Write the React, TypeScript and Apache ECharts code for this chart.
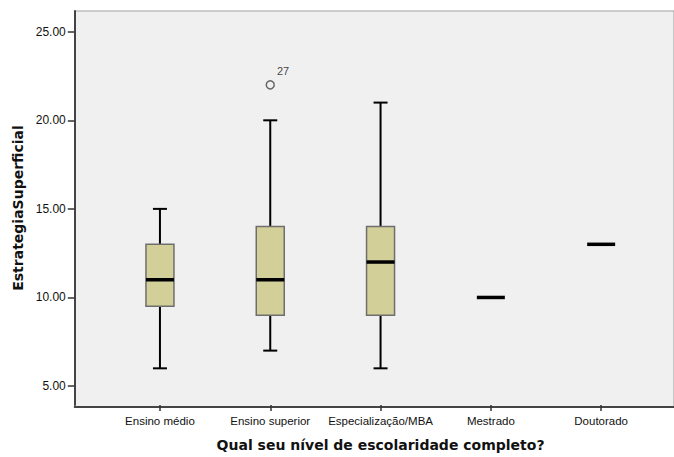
import React, { useEffect, useRef } from "react";
import * as echarts from "echarts";

const categories = ["Ensino médio", "Ensino superior", "Especialização/MBA", "Mestrado", "Doutorado"];
const mins = [6, 7, 6, 10, 13];
const q1s = [9.5, 9, 9, 10, 13];
const medians = [11, 11, 12, 10, 13];
const q3s = [13, 14, 14, 10, 13];
const maxs = [15, 20, 21, 10, 13];
const outliers = [[1, 22]];
const outlierLabels = ["27"];
const yTicks = [5, 10, 15, 20, 25];

export default function App() {
  const ref = useRef<HTMLDivElement>(null);
  useEffect(() => {
    if (!ref.current) return;
    const chart = echarts.init(ref.current, null, { renderer: "svg" });
    const boxData = categories.map((_, i) => [i, mins[i], q1s[i], medians[i], q3s[i], maxs[i]]);
    const boxW = 28;
    const capW = 14;
    const font = "'Liberation Sans', Arial, sans-serif";
    chart.setOption({
      animation: false,
      backgroundColor: "#ffffff",
      grid: [
        {
          left: 74.7, top: 11, right: -30, bottom: 50.3,
          show: true, backgroundColor: "#f0f0f0", borderColor: "#a0a0a0", borderWidth: 1,
        },
        { left: 104.8, top: 11, right: 17.7, bottom: 50.3, show: false },
      ],
      xAxis: [
        {
          gridIndex: 0, type: "value", min: 0, max: 1,
          axisLine: { show: true, onZero: false, lineStyle: { color: "#444", width: 2 } },
          axisTick: { show: false }, axisLabel: { show: false }, splitLine: { show: false },
        },
        {
          gridIndex: 1, type: "category", data: categories,
          axisLine: { show: false },
          axisTick: { show: true, alignWithLabel: true, length: 6, lineStyle: { color: "#333", width: 1.5 } },
          axisLabel: { interval: 0, fontSize: 11.5, color: "#111", fontFamily: font, margin: 10 },
          splitLine: { show: false },
          name: "Qual seu nível de escolaridade completo?",
          nameLocation: "middle", nameGap: 33,
          nameTextStyle: { fontSize: 14, fontWeight: "bold", color: "#111", fontFamily: "'DejaVu Sans', sans-serif" },
        },
      ],
      yAxis: [
        { gridIndex: 0, type: "value", min: 0, max: 1, show: false },
        {
          gridIndex: 1, type: "value", min: 3.93, max: 26.17, offset: 30,
          axisLine: { show: true, lineStyle: { color: "#444", width: 2 } },
          axisTick: { show: true, length: 7, customValues: yTicks, lineStyle: { color: "#333", width: 1.5 } },
          axisLabel: {
            customValues: yTicks, fontSize: 12, color: "#111", fontFamily: font, margin: 9,
            formatter: (v: number) => v.toFixed(2),
          },
          splitLine: { show: false },
          name: "EstrategiaSuperficial",
          nameLocation: "middle", nameGap: 49,
          nameTextStyle: { fontSize: 14, fontWeight: "bold", color: "#111", fontFamily: "'DejaVu Sans', sans-serif" },
        },
      ],
      series: [
        {
          type: "custom",
          xAxisIndex: 1, yAxisIndex: 1,
          dimensions: ["x", "min", "q1", "median", "q3", "max"],
          encode: { x: 0, y: [1, 2, 3, 4, 5] },
          data: boxData,
          renderItem: (params: any, api: any) => {
            const x = api.value(0);
            const pMin = api.coord([x, api.value(1)]);
            const pQ1 = api.coord([x, api.value(2)]);
            const pMed = api.coord([x, api.value(3)]);
            const pQ3 = api.coord([x, api.value(4)]);
            const pMax = api.coord([x, api.value(5)]);
            const cx = pMed[0];
            const wl = { stroke: "#000", lineWidth: 2 };
            const children: any[] = [];
            if (pMax[1] < pQ3[1]) {
              children.push({ type: "line", shape: { x1: cx, y1: pQ3[1], x2: cx, y2: pMax[1] }, style: wl });
              children.push({ type: "line", shape: { x1: cx - capW / 2, y1: pMax[1], x2: cx + capW / 2, y2: pMax[1] }, style: wl });
            }
            if (pMin[1] > pQ1[1]) {
              children.push({ type: "line", shape: { x1: cx, y1: pQ1[1], x2: cx, y2: pMin[1] }, style: wl });
              children.push({ type: "line", shape: { x1: cx - capW / 2, y1: pMin[1], x2: cx + capW / 2, y2: pMin[1] }, style: wl });
            }
            if (pQ1[1] - pQ3[1] > 0.5) {
              children.push({
                type: "rect",
                shape: { x: cx - boxW / 2, y: pQ3[1], width: boxW, height: pQ1[1] - pQ3[1] },
                style: { fill: "#d3cf98", stroke: "#6e6e6e", lineWidth: 1.5 },
              });
            }
            children.push({
              type: "line",
              shape: { x1: cx - boxW / 2, y1: pMed[1], x2: cx + boxW / 2, y2: pMed[1] },
              style: { stroke: "#000", lineWidth: 3.5 },
            });
            return { type: "group", children };
          },
        },
        {
          type: "scatter",
          xAxisIndex: 1, yAxisIndex: 1,
          data: outliers,
          symbol: "circle",
          symbolSize: 8,
          itemStyle: { color: "rgba(0,0,0,0)", borderColor: "#444", borderWidth: 1.5 },
          label: {
            show: true,
            position: "right",
            distance: 2,
            offset: [0, -14],
            fontSize: 11,
            color: "#111",
            fontFamily: font,
            formatter: (p: any) => outlierLabels[p.dataIndex],
          },
        },
      ],
    });
    return () => chart.dispose();
  }, []);
  return <div ref={ref} style={{ position: "absolute", left: 0, top: 0, width: 674, height: 457 }} />;
}
